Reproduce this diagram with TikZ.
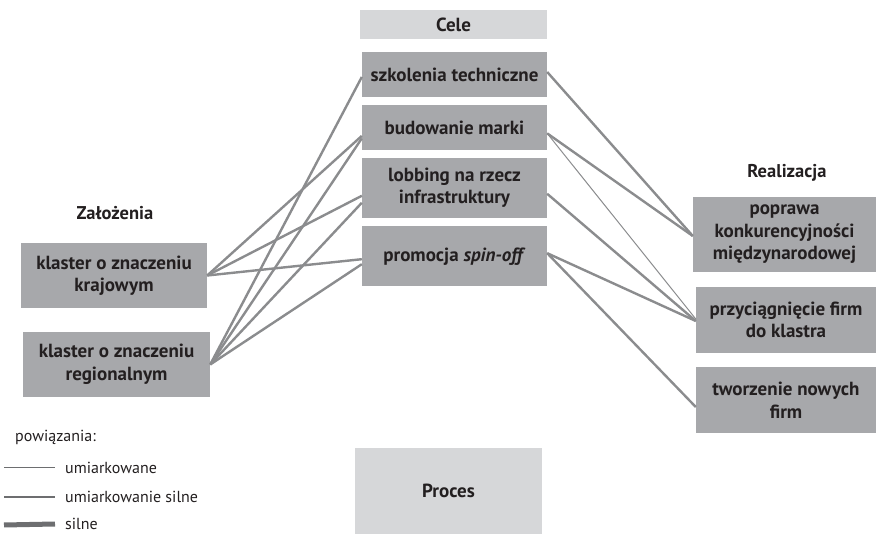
\documentclass[tikz,border=0pt]{standalone}
\usepackage{fontspec}
\setmainfont{PT Sans}
\usetikzlibrary{positioning}
\definecolor{boxgray}{HTML}{A7A8AB}
\definecolor{palegray}{HTML}{D6D7D9}
\definecolor{linkgray}{HTML}{8B8C8E}
\definecolor{keygray}{HTML}{6D6E70}
\definecolor{ink}{HTML}{231F20}
\tikzset{
  block/.style={
    rectangle,
    fill=boxgray,
    text=ink,
    align=center,
    inner sep=0pt,
    font=\fontsize{19}{22.5}\selectfont\bfseries
  },
  band/.style={
    block,
    fill=palegray
  },
  heading/.style={
    text=ink,
    inner sep=0pt,
    font=\fontsize{18.5}{21}\selectfont\bfseries
  },
  link/.style={draw=linkgray, line width=2.4pt},
  weaklink/.style={draw=linkgray, line width=1pt},
  keyline/.style={draw=keygray},
  keytext/.style={
    text=ink,
    anchor=west,
    inner xsep=10pt,
    inner ysep=0pt,
    font=\fontsize{16}{19}\selectfont
  }
}

\begin{document}
\begin{tikzpicture}[x=1pt, y=-1pt]
  \useasboundingbox (0,0) rectangle (876,534);

  % middle column
  \node[band, minimum width=187pt, minimum height=29pt] (cele) at (453.5,24.5) {Cele};
  \node[block, minimum width=185pt, minimum height=45pt] (szkol) at (454.5,74.5) {szkolenia techniczne};
  \node[block, minimum width=185pt, minimum height=45pt, below=8pt of szkol] (bud) {budowanie marki};
  \node[block, minimum width=185pt, minimum height=60pt, below=7pt of bud] (lobb) {lobbing na rzecz\\infrastruktury};
  \node[block, minimum width=185pt, minimum height=60pt, below=8pt of lobb] (promo) {promocja \textit{spin-off}};
  \node[band, minimum width=187pt, minimum height=86pt] (proces) at (448.5,491) {Proces};

  % left column
  \node[heading] (zal) at (115,213) {Założenia};
  \node[block, minimum width=186pt, minimum height=65pt] (kraj) at (114,275.5) {klaster o znaczeniu\\krajowym};
  \node[block, minimum width=187pt, minimum height=65pt] (reg) at (116.5,364.5) {klaster o znaczeniu\\regionalnym};

  % right column
  \node[heading] (real) at (787,173) {Realizacja};
  \node[block, minimum width=183pt, minimum height=75pt] (popr) at (784.5,234.5) {poprawa\\konkurencyjności\\międzynarodowej};
  \node[block, minimum width=180pt, minimum height=66pt] (przy) at (786,320) {przyciągnięcie firm\\do klastra};
  \node[block, minimum width=180pt, minimum height=66pt] (tworz) at (786,400) {tworzenie nowych\\firm};

  % links left -> middle
  \draw[link] (kraj.east) -- ([yshift=-8pt]bud.west);
  \draw[link] (kraj.east) -- ([yshift=-8pt]lobb.west);
  \draw[link] (kraj.east) -- ([yshift=-3pt]promo.west);
  \draw[link] (reg.east) -- ([yshift=-2.5pt]szkol.west);
  \draw[link] (reg.east) -- ([yshift=-10.5pt]bud.west);
  \draw[link] (reg.east) -- ([yshift=-15pt]lobb.west);
  \draw[link] (reg.east) -- ([yshift=-8pt]promo.west);

  % links middle -> right
  \draw[link] ([yshift=2.5pt]szkol.east) -- ([yshift=-1.5pt]popr.west);
  \draw[link] ([yshift=-5.5pt]bud.east) -- ([yshift=-1.5pt]popr.west);
  \draw[weaklink] ([yshift=-5.5pt]bud.east) -- ([yshift=1pt]przy.west);
  \draw[link] ([yshift=-6pt]lobb.east) -- ([yshift=-1pt]przy.west);
  \draw[link] ([yshift=3pt]promo.east) -- ([yshift=-1pt]przy.west);
  \draw[link] ([yshift=3pt]promo.east) -- ([yshift=-7pt]tworz.west);

  % key
  \node[keytext, inner xsep=0pt] (keyhead) at (15,437) {powiązania:};
  \coordinate (k1) at (4,468);
  \coordinate (k2) at (4,497);
  \coordinate (k3) at (4,525);
  \node[keytext] (t1) at (55,468) {umiarkowane};
  \node[keytext] (t2) at (55,497) {umiarkowanie silne};
  \node[keytext] (t3) at (55,524) {silne};
  \draw[keyline, line width=1pt] (k1) -- (t1.west);
  \draw[keyline, line width=2.4pt] (k2) -- (t2.west);
  \draw[keyline, line width=5pt] (k3) -- (t3.west);
\end{tikzpicture}
\end{document}
